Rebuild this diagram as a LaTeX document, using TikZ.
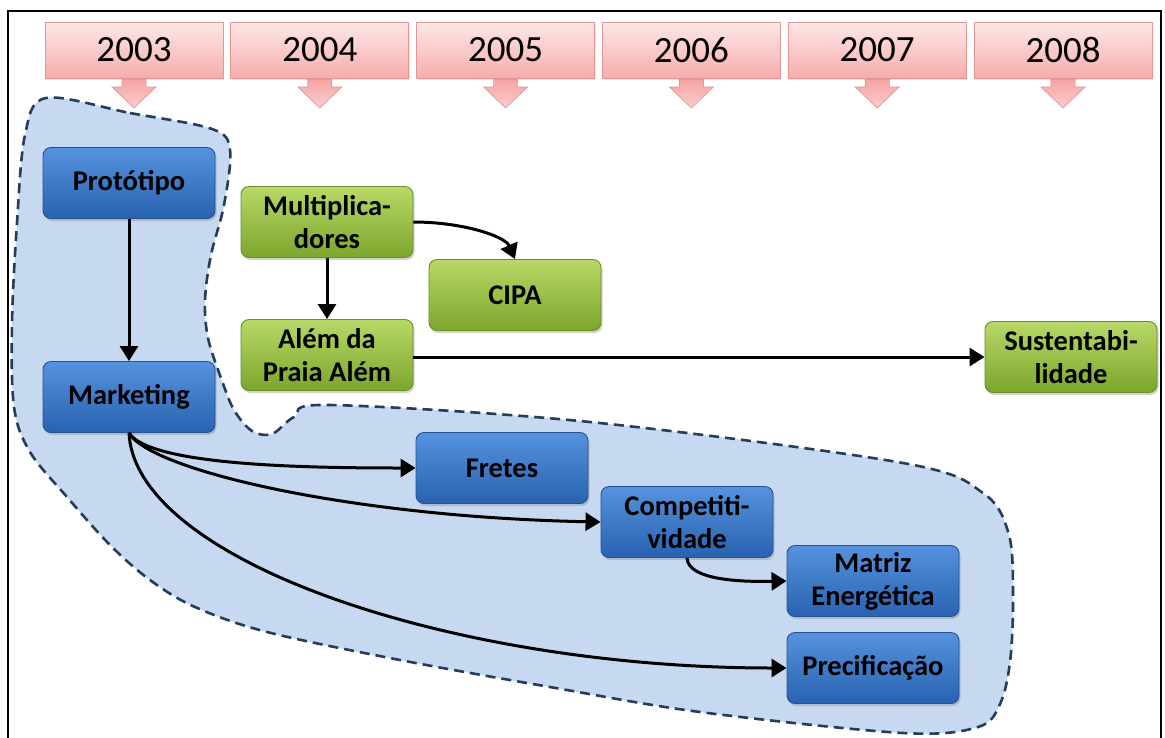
\documentclass[tikz,border=0pt]{standalone}
\usepackage{fontspec}
\setmainfont{Carlito}
\usetikzlibrary{arrows.meta,shadows}

\definecolor{yeartop}{RGB}{253,232,232}
\definecolor{yearbot}{RGB}{247,172,172}
\definecolor{yearline}{RGB}{226,150,150}
\definecolor{arrtop}{RGB}{245,160,160}
\definecolor{arrbot}{RGB}{251,205,205}
\definecolor{bluetop}{RGB}{86,146,222}
\definecolor{bluebot}{RGB}{40,98,176}
\definecolor{blueline}{RGB}{38,82,148}
\definecolor{greentop}{RGB}{184,216,104}
\definecolor{greenbot}{RGB}{124,166,44}
\definecolor{greenline}{RGB}{108,142,38}
\definecolor{zonefill}{RGB}{198,217,240}
\definecolor{zoneline}{RGB}{38,60,92}

\begin{document}
\begin{tikzpicture}[x=1pt,y=-1pt,
  yearbox/.style={draw=yearline, line width=0.9pt, top color=yeartop,
    bottom color=yearbot, minimum width=178pt, minimum height=56pt,
    inner sep=0pt, font=\fontsize{37}{40}\selectfont,
    drop shadow={shadow xshift=1pt, shadow yshift=-1.5pt, opacity=0.2}},
  yeararrow/.style={draw=yearline, line width=0.7pt, top color=arrtop,
    bottom color=arrbot},
  card/.style={rounded corners=8pt, minimum width=172pt, minimum height=71pt,
    align=center, inner sep=2pt, line width=0.9pt,
    font=\fontsize{28.5}{33}\selectfont\bfseries,
    drop shadow={shadow xshift=1.5pt, shadow yshift=-2.5pt, opacity=0.35}},
  bluecard/.style={card, draw=blueline, top color=bluetop, bottom color=bluebot},
  greencard/.style={card, draw=greenline, top color=greentop, bottom color=greenbot},
  link/.style={line width=3pt, -{Triangle[length=15pt,width=18pt]}},
  zone/.style={fill=zonefill, draw=zoneline, line width=2.6pt,
    dash pattern=on 10pt off 6pt},
]
\useasboundingbox (0,0) rectangle (1165,737);
\fill[white] (0,0) rectangle (1165,737);

% frame
\draw[line width=2pt] (7.5,740) -- (7.5,11) -- (1161,11) -- (1161,740);

% timeline of years with downward arrows
\foreach \yr [count=\i from 0] in {2003,2004,2005,2006,2007,2008} {
  \pgfmathsetmacro\cx{134+185.8*\i}
  \shade[yeararrow] (\cx-12,77) -- (\cx-12,87) -- (\cx-22,87) -- (\cx,108)
    -- (\cx+22,87) -- (\cx+12,87) -- (\cx+12,77) -- cycle;
  \node[yearbox] (y\yr) at (\cx,50) {\yr};
}

% highlighted area
\path[zone] plot[smooth cycle, tension=0.55] coordinates {
  (46,98) (130,113) (212,129) (230,150) (224,205) (211,255) (205,300)
  (208,338) (221,378) (234,410) (252,431) (272,434) (294,417) (330,405)
  (590,422) (903,463) (983,493) (1009,535) (1013,600) (1010,662)
  (1000,704) (978,727) (903,733) (700,712) (550,687) (400,660) (267,632)
  (195,607) (150,580) (110,545) (67,497) (30,452) (14,407) (12,323)
  (17,223) (25,135)};

% boxes
\node[bluecard] (proto) at (129,183) {Protótipo};
\node[bluecard] (mkt) at (129,397) {Marketing};
\node[greencard] (mult) at (327,222) {Multiplica-\\dores};
\node[greencard] (cipa) at (515,295) {CIPA};
\node[greencard] (alem) at (327,355) {Além da\\Praia Além};
\node[greencard] (sust) at (1071,357) {Sustentabi-\\lidade};
\node[bluecard] (fretes) at (502,468) {Fretes};
\node[bluecard] (comp) at (687,522) {Competiti-\\vidade};
\node[bluecard] (matriz) at (873,581) {Matriz\\Energética};
\node[bluecard] (prec) at (873,668) {Precificação};

% connectors
\draw[link] (proto.south) -- (mkt.north);
\draw[link] (mult.south) -- (alem.north);
\draw[link] (mult.east) .. controls (462,222) and (505,236) .. (cipa.north);
\draw[link] (alem.east |- sust.west) -- (sust.west);
\draw[link] (mkt.south) .. controls (150,465) and (300,468) .. (fretes.west);
\draw[link] (mkt.south) .. controls (150,470) and (350,517) .. (comp.west);
\draw[link] (mkt.south) .. controls (135,560) and (450,668) .. (prec.west);
\draw[link] (comp.south) .. controls (688,580) and (740,582) .. (matriz.west);
\end{tikzpicture}
\end{document}
